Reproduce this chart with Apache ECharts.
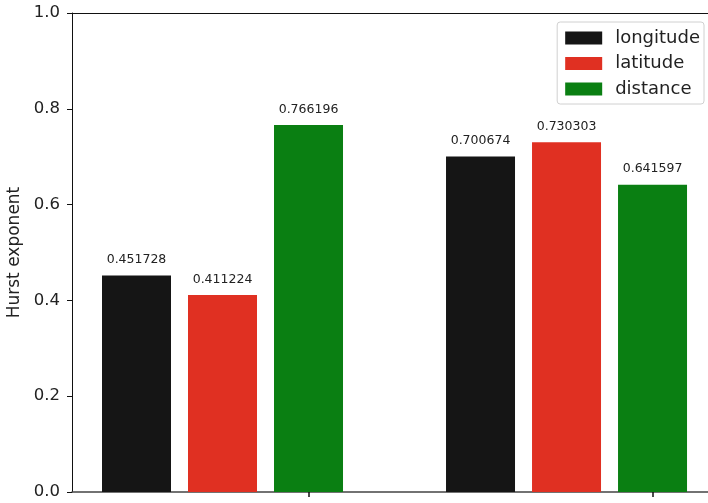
<!DOCTYPE html>
<html>
<head>
<meta charset="utf-8">
<script src="https://cdn.jsdelivr.net/npm/echarts@6/dist/echarts.min.js"></script>
<style>
  html, body { margin: 0; padding: 0; background: #fff; }
  #chart { width: 708px; height: 503px; }
</style>
</head>
<body>
<div id="chart"></div>
<script>
// Hurst exponents for the two groups, one series per coordinate
const seriesNames = ['longitude', 'latitude', 'distance'];
const groupStarts = [0, 4];            // x position of the first bar in each group
const longitudeValues = [0.451728, 0.700674];
const latitudeValues = [0.411224, 0.730303];
const distanceValues = [0.766196, 0.641597];
const groupTicks = [2, 6];
const yTicks = [0.0, 0.2, 0.4, 0.6, 0.8, 1.0];

const seriesValues = [longitudeValues, latitudeValues, distanceValues];
const colors = ['#151515', '#e03022', '#0a7f12'];
const FONT = 'DejaVu Sans';
const X_MIN = -0.75, X_MAX = 6.645;

const chart = echarts.init(document.getElementById('chart'), null, { renderer: 'canvas' });

const series = seriesNames.map((name, si) => ({
  name: name,
  type: 'bar',
  barWidth: 69,
  barGap: '-100%',
  itemStyle: { color: colors[si] },
  label: {
    show: true,
    position: 'top',
    distance: 9,
    fontFamily: FONT,
    fontSize: 12.5,
    color: '#222',
    formatter: p => String(p.value[1])
  },
  data: groupStarts.map((g, gi) => [g + si, seriesValues[si][gi]])
}));

chart.setOption({
  animation: false,
  textStyle: { fontFamily: FONT },
  grid: {
    left: 72, top: 13, right: 0, bottom: 11,
    outerBoundsMode: 'none',
    containLabel: false
  },
  legend: {
    data: seriesNames,
    right: 4, top: 22,
    orient: 'vertical',
    icon: 'rect',
    itemWidth: 37, itemHeight: 13,
    itemGap: 7.5,
    itemTextGap: 5,
    padding: [7, 4, 6, 8],
    borderColor: '#d0d0d0', borderWidth: 1, borderRadius: 3,
    backgroundColor: 'rgba(255,255,255,0.8)',
    textStyle: { fontFamily: FONT, fontSize: 18, lineHeight: 13, color: '#222', padding: [0, 0, 0, 8] }
  },
  xAxis: [{
    type: 'value',
    min: X_MIN, max: X_MAX,
    splitLine: { show: false },
    axisLine: { show: true, onZero: false, lineStyle: { color: '#444', width: 1.5 } },
    axisTick: { show: true, customValues: groupTicks, length: 5, lineStyle: { color: '#111', width: 1.5 } },
    axisLabel: { show: false, customValues: groupTicks }
  }, {
    // top spine
    type: 'value',
    position: 'top',
    min: X_MIN, max: X_MAX,
    splitLine: { show: false },
    axisLine: { show: true, onZero: false, lineStyle: { color: '#111', width: 1 } },
    axisTick: { show: false },
    axisLabel: { show: false }
  }],
  yAxis: {
    type: 'value',
    min: 0, max: 1.0, interval: 0.2,
    name: 'Hurst exponent',
    nameLocation: 'middle',
    nameGap: 48.5,
    nameTextStyle: { fontFamily: FONT, fontSize: 17, color: '#222' },
    splitLine: { show: false },
    axisLine: { show: true, onZero: false, lineStyle: { color: '#111', width: 1 } },
    axisTick: { show: true, length: 5, lineStyle: { color: '#111', width: 1 } },
    axisLabel: {
      fontFamily: FONT, fontSize: 16.5, color: '#222', margin: 12,
      customValues: yTicks,
      formatter: v => v.toFixed(1)
    }
  },
  series: series
});
</script>
</body>
</html>
